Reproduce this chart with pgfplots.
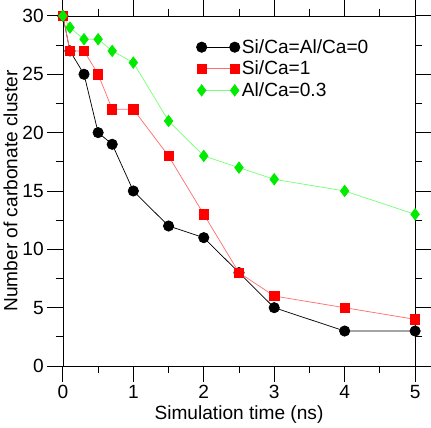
\documentclass[border=0pt]{standalone}
\usepackage{pgfplots}
\pgfplotsset{compat=1.18}
\usepackage{fontspec}
\setmainfont{Liberation Sans}
\definecolor{lred}{RGB}{255,110,110}
\definecolor{lgreen}{RGB}{120,255,120}
\definecolor{mgreen}{RGB}{0,235,0}
\begin{document}
\begin{tikzpicture}
\begin{axis}[
  scale only axis,
  width=341pt, height=339pt,
  xmin=0, xmax=5, ymin=0, ymax=30,
  xtick={0,1,2,3,4,5}, ytick={0,5,10,15,20,25,30},
  minor x tick num=1, minor y tick num=1,
  tick align=outside,
  major tick length=15pt, minor tick length=7pt,
  major tick style={draw=black, line width=0.8pt},
  minor tick style={draw=black, line width=0.8pt},
  axis on top,
  tick label style={font=\fontsize{18.5}{20}\selectfont},
  /pgf/number format/assume math mode=true,
  xlabel={Simulation time (ns)},
  ylabel={Number of carbonate cluster},
  label style={font=\fontsize{18.5}{20}\selectfont},
  ylabel style={yshift=-2pt},
  clip=false,
  legend style={at={(0.37,0.945)}, anchor=north west, draw=none, fill=none,
    font=\fontsize{18.5}{20}\selectfont, row sep=2pt},
  legend cell align=left,
  legend image code/.code={\draw[mark repeat=2,mark phase=1] plot coordinates {(0pt,0pt) (16pt,0pt) (32pt,0pt)};},
]
\addplot[black, line width=0.7pt, mark=*, mark size=5pt, mark options={fill=black}] coordinates {
(0,30)(0.1,27)(0.3,25)(0.5,20)(0.7,19)(1,15)(1.5,12)(2,11)(2.5,8)(3,5)(4,3)(5,3)};
\addlegendentry{Si/Ca=Al/Ca=0}
\addplot[lred, line width=0.7pt, mark=square*, mark size=4.5pt, mark options={fill=red, draw=red}] coordinates {
(0,30)(0.1,27)(0.3,27)(0.5,25)(0.7,22)(1,22)(1.5,18)(2,13)(2.5,8)(3,6)(4,5)(5,4)};
\addlegendentry{Si/Ca=1}
\addplot[lgreen, line width=0.7pt, mark=diamond*, mark size=5.5pt, mark options={fill=mgreen, draw=mgreen}] coordinates {
(0,30)(0.1,29)(0.3,28)(0.5,28)(0.7,27)(1,26)(1.5,21)(2,18)(2.5,17)(3,16)(4,15)(5,13)};
\addlegendentry{Al/Ca=0.3}
\end{axis}
\end{tikzpicture}
\end{document}
